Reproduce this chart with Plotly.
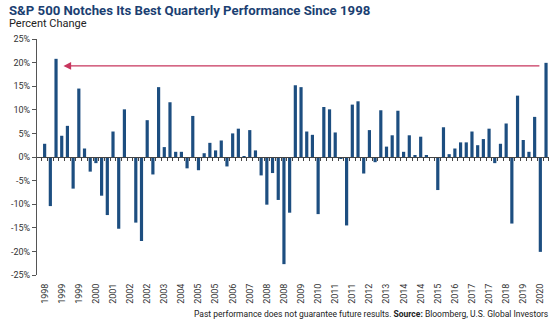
import plotly.graph_objects as go

# Quarterly S&P 500 percent change, 1998 Q2 .. 2020 Q2
quarters = [f"{1998 + (i + 1) // 4} Q{(i + 1) % 4 + 1}" for i in range(89)]
values = [
    2.8, -10.4, 20.8, 4.5, 6.6, -6.7, 14.5, 1.8, -3.1, -1.3,
    -8.2, -12.3, 5.4, -15.2, 10.1, -0.1, -13.9, -17.8, 7.8, -3.7,
    14.8, 2.1, 11.6, 1.1, 1.1, -2.4, 8.7, -2.8, 0.8, 3.0,
    1.4, 3.5, -2.0, 5.0, 6.0, 0.2, 5.7, 1.4, -3.9, -10.1,
    -3.4, -9.1, -22.7, -11.8, 15.2, 14.8, 5.4, 4.7, -12.1, 10.6,
    10.1, 5.2, -0.4, -14.5, 11.1, 11.8, -3.5, 5.7, -1.1, 9.9,
    2.2, 4.6, 9.8, 1.1, 4.6, 0.4, 4.3, 0.3, -0.1, -7.0,
    6.3, 0.6, 1.8, 3.1, 3.1, 5.4, 2.5, 3.8, 6.0, -1.3,
    2.8, 7.1, -14.1, 13.0, 3.6, 1.1, 8.5, -20.1, 19.95,
]
tick_labels = [
    "1998", "1999", "1999", "2000", "2001", "2002", "2002", "2003", "2004", "2005",
    "2005", "2006", "2007", "2008", "2008", "2009", "2010", "2011", "2011", "2012",
    "2013", "2014", "2014", "2015", "2016", "2017", "2017", "2018", "2019", "2020",
]
y_ticks = [25, 20, 15, 10, 5, 0, -5, -10, -15, -20, -25]

n = len(values)
idx = list(range(n))
label_pos = list(range(0, 3 * len(tick_labels), 3))
xrange = [-1.34, n - 1 + 0.52]

BLUE = "#1d4e80"
RED = "#c8365e"
NAVY = "#1b3f72"
TXT = "#333333"
FONT = "Roboto"

fig = go.Figure()
fig.add_trace(go.Bar(
    x=idx, y=values, marker=dict(color=BLUE, line=dict(width=0)),
    width=0.56, hoverinfo="skip", showlegend=False,
))
# carrier for bottom label axis
fig.add_trace(go.Scatter(
    x=label_pos, y=[0] * len(label_pos), xaxis="x2", mode="markers",
    marker=dict(opacity=0), hoverinfo="skip", showlegend=False,
))

peak_idx = 2
last_idx = n - 1
last_val = values[-1]

fig.update_layout(
    width=560, height=324,
    margin=dict(l=33, r=11, t=39, b=49, pad=0),
    plot_bgcolor="white", paper_bgcolor="white",
    font=dict(family=FONT, color=TXT, size=9),
    xaxis=dict(
        range=xrange, anchor="free", position=0.5,
        showline=True, linecolor="#444444", linewidth=1,
        tickmode="array", tickvals=[i - 0.5 for i in range(n + 1)],
        ticks="outside", ticklen=3, tickcolor="#444444", tickwidth=1,
        showticklabels=False, showgrid=False, zeroline=False, fixedrange=True,
    ),
    xaxis2=dict(
        range=xrange, overlaying="x", anchor="y", side="bottom",
        tickmode="array", tickvals=label_pos, ticktext=tick_labels,
        tickangle=-90, ticks="outside", ticklen=4, tickcolor="rgba(0,0,0,0)",
        showline=False, showgrid=False, zeroline=False,
        tickfont=dict(family=FONT, size=9, color=TXT), fixedrange=True,
    ),
    yaxis=dict(
        range=[-25, 25], tickmode="array", tickvals=y_ticks,
        ticktext=[f"{v}%" for v in y_ticks],
        showline=True, linecolor="#555555", linewidth=1,
        ticks="outside", ticklen=4, tickcolor="#555555",
        showgrid=False, zeroline=False,
        tickfont=dict(family=FONT, size=9, color=TXT), fixedrange=True,
    ),
    bargap=0.44,
    annotations=[
        dict(
            x=peak_idx + 1.3, y=last_val - 0.65, ax=last_idx - 0.9, ay=last_val - 0.65,
            xref="x", yref="y", axref="x", ayref="y", text="",
            showarrow=True, arrowhead=2, arrowsize=1.1, arrowwidth=1.4,
            arrowcolor=RED,
        ),
        dict(
            x=last_idx + 1.5, y=last_val + 1.9, xref="x", yref="y",
            text=f"<b>+{last_val:.2f}%</b>", showarrow=False,
            xanchor="right", yanchor="middle",
            font=dict(family=FONT, size=10.5, color=RED),
        ),
        dict(
            x=-30 / 516, y=1 + 29 / 236, xref="paper", yref="paper",
            text="<b>S&P 500 Notches Its Best Quarterly Performance Since 1998</b>",
            showarrow=False, xanchor="left", yanchor="middle",
            font=dict(family=FONT, size=13.2, color=NAVY),
        ),
        dict(
            x=-30 / 516, y=1 + 15 / 236, xref="paper", yref="paper",
            text="Percent Change", showarrow=False, xanchor="left", yanchor="middle",
            font=dict(family=FONT, size=11, color="#222222"),
        ),
        dict(
            x=1 + 1 / 516, y=-39 / 236, xref="paper", yref="paper",
            text="Past performance does not guarantee future results. <b>Source:</b> Bloomberg, U.S. Global Investors",
            showarrow=False, xanchor="right", yanchor="middle",
            font=dict(family=FONT, size=8.5, color="#222222"),
        ),
    ],
)

fig.write_html("out.html")
